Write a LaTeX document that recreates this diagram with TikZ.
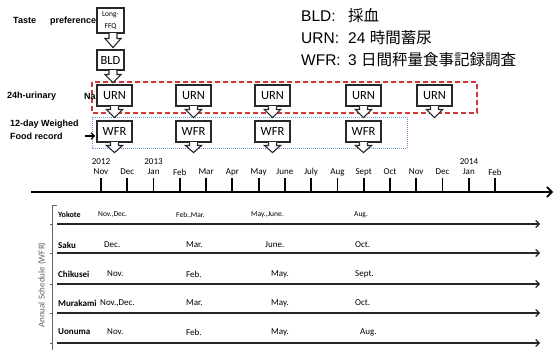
\documentclass[tikz,border=0pt]{standalone}
\usepackage{fontspec}
\setmainfont{Carlito}
\newfontfamily\arial{Liberation Sans}
\newfontfamily\jp{Noto Sans CJK JP}
\usetikzlibrary{arrows.meta,calc}
\definecolor{boxgray}{RGB}{40,40,40}
\definecolor{dashred}{RGB}{210,55,55}
\definecolor{dotblue}{RGB}{110,150,215}
\definecolor{brgray}{RGB}{100,100,100}
\tikzset{
  boxline/.style={draw=boxgray,line width=1.1pt,line join=miter},
  cbox/.style={boxline,fill=white,rectangle,inner sep=0pt,minimum width=35pt,minimum height=21pt,font=\fontsize{12.5}{14}\selectfont},
  lefttxt/.style={inner sep=0pt,anchor=west,font=\arial\bfseries\fontsize{9}{13}\selectfont},
  month/.style={inner sep=0pt,font=\fontsize{9}{11}\selectfont},
  ticky/.style={line width=1.8pt,draw=black},
  axisline/.style={line width=2.2pt,-{Straight Barb[length=5pt,width=10pt,line width=1.6pt]}},
  rowline/.style={line width=1.1pt,draw=black!85,-{Straight Barb[length=3.5pt,width=7pt,line width=1.1pt]}},
  rowname/.style={inner sep=0pt,anchor=west,font=\bfseries\fontsize{9}{10}\selectfont},
  rowval/.style={inner sep=0pt,anchor=west,font=\fontsize{9}{10}\selectfont},
  rowvals/.style={inner sep=0pt,anchor=west,font=\fontsize{7.5}{9}\selectfont},
  legend/.style={inner sep=0pt,anchor=west,font=\arial\fontsize{15.5}{17}\selectfont},
}
% callout tail under a box: #1 node, #2 x offset, #3 stem length, #4 total length
\newcommand\tail[4]{%
  \fill[white] ($(#1.south)+({#2-3.3},-0.8)$) rectangle ++(6.6,1.6);
  \draw[boxline,fill=white] ($(#1.south)+({#2-4},0)$) -- ++(0,#3) -- ++(-4,0)
     -- ++(8,{#4-#3}) -- ++(8,{-(#4-#3)}) -- ++(-4,0) -- ++(0,{-#3});
}
\begin{document}
\begin{tikzpicture}[x=1pt,y=-1pt]
\useasboundingbox (0,0) rectangle (554,350);
\fill[white] (0,0) rectangle (554,350);

% group frames
\draw[dashred,line width=1.3pt,dash pattern=on 5pt off 3pt] (92,82) rectangle (477,113);
\draw[dotblue,line width=0.7pt,dash pattern=on 1pt off 1pt] (92,117) rectangle (407,148);

% legend
\node[legend] (lgbld) at (301,16) {\makebox[47pt][l]{BLD:}{\jp 採血}};
\node[legend] (lgurn) at (301,38) {\makebox[47pt][l]{URN:}24 {\jp 時間蓄尿}};
\node[legend] (lgwfr) at (301,60) {\makebox[47pt][l]{WFR:}3 {\jp 日間秤量食事記録調査}};

% left labels
\node[lefttxt] (taste) at (13,21) {Taste\hspace{14pt}preference};
\node[lefttxt] (urinary) at (7,96) {24h-urinary};
\node[lefttxt] (na) at (84,96) {Na};
\node[lefttxt,align=left] (wfrlab) at (10,129.5) {12-day Weighed\\Food record};
\coordinate (arrA) at (85,136);
\coordinate (arrB) at (95,136);
\draw[line width=1.4pt,-{Straight Barb[length=3pt,width=6.5pt,line width=1.2pt]}] (arrA) -- (arrB);

% boxes
\node[cbox,minimum width=27pt,minimum height=25pt,align=center,font=\fontsize{7.5}{12}\selectfont] (ffq) at (110.5,20.5) {Long-\\FFQ};
\tail{ffq}{2.5}{5}{14}
\node[cbox,minimum width=27pt,minimum height=20pt] (bld) at (110.5,60) {BLD};
\tail{bld}{2.5}{4}{12}

\foreach \n/\x in {1/114.5,2/193.5,3/272.5,4/363.5,5/434.5}{
  \node[cbox] (urn\n) at (\x,95.5) {URN};
  \tail{urn\n}{0}{3}{11}
}
\foreach \n/\x in {1/114.5,2/193.5,3/272.5,4/363.5}{
  \node[cbox] (wfr\n) at (\x,131.5) {WFR};
  \tail{wfr\n}{0}{3}{10}
}

% timeline
\coordinate (ax0) at (31,192);
\coordinate (ax1) at (553,192);
\draw[axisline] (ax0) -- (ax1);
\foreach \m [count=\i from 0] in {Nov,Dec,Jan,Feb,Mar,Apr,May,June,July,Aug,Sept,Oct,Nov,Dec,Jan,Feb}{
  \node[month] (mo\i) at ({101+26.27*\i},172) {\m};
  \draw[ticky] (mo\i) ++(0,6) -- ++(0,14);
}
\node[month] (y2012) at (101,162) {2012};
\node[month] (y2013) at (153.5,162) {2013};
\node[month] (y2014) at (469,162) {2014};

% annual schedule bracket
\coordinate (brtop) at (57,205);
\coordinate (brc) at (52,205);
\coordinate (brbot) at (52,350);
\draw[brgray,line width=0.8pt] (brtop) -- (brc) -- (brbot);
\node[rotate=90,inner sep=0pt,text=brgray,font=\fontsize{9}{10}\selectfont] (annual) at (42,285) {Annual Schedule (WFR)};

% rows
\foreach \r/\yl in {1/224,2/253,3/284,4/313,5/343}{
  \coordinate (rs\r) at (57,\yl);
  \coordinate (re\r) at (540,\yl);
  \draw[rowline] (rs\r) -- (re\r);
  \draw[brgray,line width=0.6pt] (49.5,\yl) -- (52,\yl);
}
\node[rowname,font=\bfseries\fontsize{8}{9}\selectfont] (yokote) at (58,215) {Yokote};
\node[rowvals] (yk1) at (98,215) {Nov.,Dec.};
\node[rowvals] (yk2) at (176,215) {Feb.,Mar.};
\node[rowvals] (yk3) at (251,215) {May.,June.};
\node[rowvals] (yk4) at (354,215) {Aug.};

\node[rowname] (saku) at (58,245) {Saku};
\node[rowval] (sk1) at (104,245) {Dec.};
\node[rowval] (sk2) at (186,245) {Mar.};
\node[rowval] (sk3) at (265,245) {June.};
\node[rowval] (sk4) at (355,245) {Oct.};

\node[rowname] (chikusei) at (58,274) {Chikusei};
\node[rowval] (ch1) at (107,274) {Nov.};
\node[rowval] (ch2) at (186,274) {Feb.};
\node[rowval] (ch3) at (271,274) {May.};
\node[rowval] (ch4) at (355,274) {Sept.};

\node[rowname] (murakami) at (58,303) {Murakami};
\node[rowval] (mu1) at (100,303) {Nov.,Dec.};
\node[rowval] (mu2) at (186,303) {Mar.};
\node[rowval] (mu3) at (271,303) {May.};
\node[rowval] (mu4) at (355,303) {Oct.};

\node[rowname] (uonuma) at (58,332) {Uonuma};
\node[rowval] (uo1) at (107,332) {Nov.};
\node[rowval] (uo2) at (186,332) {Feb.};
\node[rowval] (uo3) at (271,332) {May.};
\node[rowval] (uo4) at (360,332) {Aug.};
\end{tikzpicture}
\end{document}
